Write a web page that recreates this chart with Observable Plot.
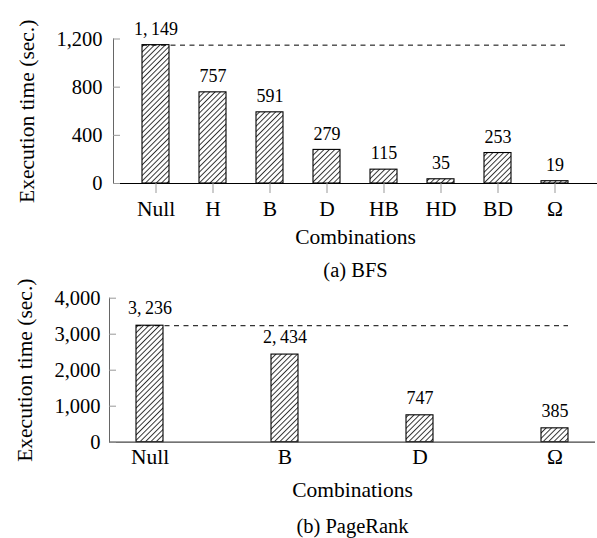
<!DOCTYPE html>
<html>
<head>
<meta charset="utf-8">
<script src="https://cdn.jsdelivr.net/npm/d3@7"></script>
<script src="https://cdn.jsdelivr.net/npm/@observablehq/plot@0.6"></script>
<style>
  html, body { margin: 0; padding: 0; background: white; }
  svg { display: block; }
</style>
</head>
<body>
<div id="chart"></div>
<script>
const bfsCats = ["Null", "H", "B", "D", "HB", "HD", "BD", "Ω"];
const bfsTimes = [1149, 757, 591, 279, 115, 35, 253, 19];
const bfsTicks = [0, 400, 800, 1200];

const prCats = ["Null", "B", "D", "Ω"];
const prTimes = [3236, 2434, 747, 385];
const prTicks = [0, 1000, 2000, 3000, 4000];

const xTitle = "Combinations";
const yTitle = "Execution time (sec.)";
const captions = ["(a) BFS", "(b) PageRank"];

const FONT = "'Liberation Serif', 'Times New Roman', serif";
const valFmt = v => d3.format(",")(v).replace(",", ",\u2009");

function chart(o) {
  const data = o.cats.map((c, i) => ({cat: c, time: o.vals[i]}));
  const pid = "hatch" + o.id;
  const svg = Plot.plot({
    width: 597,
    height: o.height,
    marginLeft: o.marginLeft,
    marginRight: o.marginRight,
    marginTop: o.marginTop,
    marginBottom: o.marginBottom,
    style: {fontFamily: FONT, fontSize: "20px", color: "black", background: "transparent"},
    x: {type: "band", domain: o.cats, paddingInner: o.pi, paddingOuter: o.po, label: null},
    y: {domain: [0, o.ticks[o.ticks.length - 1]], label: null},
    marks: [
      Plot.barY(data, {x: "cat", y: "time", fill: `url(#${pid})`, stroke: "black", strokeWidth: 1.1}),
      Plot.ruleY([{y: o.vals[0], a: o.cats[0], b: o.cats[o.cats.length - 1]}],
        {y: "y", x1: "a", x2: "b", stroke: "black", strokeWidth: 1, strokeDasharray: "5,4.5"}),
      Plot.frame({anchor: "left", stroke: "#666", strokeWidth: 1}),
      Plot.ruleY([0], {stroke: o.xAxisColor, strokeWidth: 1.2}),
      Plot.axisY({ticks: o.ticks, tickSize: -7, stroke: "#999", tickFormat: () => "", label: null}),
      Plot.axisY({ticks: o.ticks, tickSize: 0, tickPadding: o.yPad, tickFormat: d3.format(","), fontSize: 20.5, label: null}),
      Plot.axisX({tickSize: o.xTick, stroke: "#999", tickPadding: o.xPad, fontSize: 21.5, label: null}),
      Plot.text(data, {x: "cat", y: "time", text: d => valFmt(d.time), dy: o.valDy, fontSize: 18}),
      Plot.text([xTitle], {frameAnchor: "bottom", lineAnchor: "middle", dy: o.xTitleDy, fontSize: 21.5}),
      Plot.text([o.caption], {frameAnchor: "bottom", lineAnchor: "middle", dy: o.capDy, fontSize: 20.5}),
      Plot.text([yTitle], {frameAnchor: "left", textAnchor: "middle", lineAnchor: "middle", rotate: -90, dx: o.yTitleDx, fontSize: 21.5})
    ]
  });
  d3.select(svg).insert("defs", ":first-child").html(
    `<pattern id="${pid}" patternUnits="userSpaceOnUse" width="3.8" height="10" patternTransform="rotate(45)">
       <rect width="3.8" height="10" fill="white"/>
       <line x1="0.5" y1="0" x2="0.5" y2="10" stroke="black" stroke-width="0.8"/>
     </pattern>`);
  if (o.overlap) { svg.style.marginTop = `-${o.overlap}px`; svg.style.position = "relative"; }
  return svg;
}

const root = document.getElementById("chart");
root.appendChild(chart({
  id: "A", cats: bfsCats, vals: bfsTimes, ticks: bfsTicks, caption: captions[0],
  height: 284, marginLeft: 113, marginRight: 0, marginTop: 38.5, marginBottom: 101,
  pi: 0.533, po: 0.45, xTick: 10, xPad: 7, yPad: 11, xAxisColor: "black",
  valDy: -16, xTitleDy: 53.5, capDy: 87, yTitleDx: -86
}));
root.appendChild(chart({
  id: "B", cats: prCats, vals: prTimes, ticks: prTicks, caption: captions[1], overlap: 20,
  height: 274, marginLeft: 109, marginRight: 2, marginTop: 33.7, marginBottom: 96.3,
  pi: 0.8, po: 0.2, xTick: 0, xPad: 7, yPad: 9, xAxisColor: "#444",
  valDy: -17, xTitleDy: 48.3, capDy: 84.5, yTitleDx: -84
}));
</script>
</body>
</html>
